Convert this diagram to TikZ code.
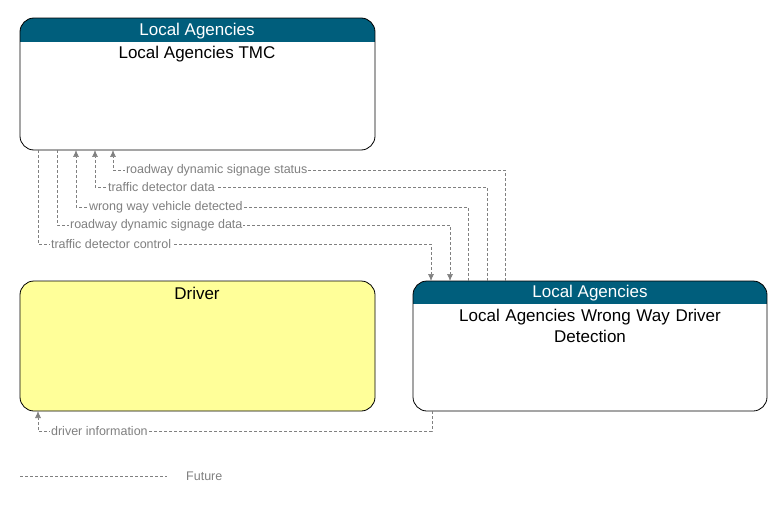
\documentclass[tikz,border=0pt]{standalone}
\usepackage{fontspec}
\setmainfont{Liberation Sans}
\usetikzlibrary{positioning,arrows.meta}
\definecolor{hdr}{RGB}{0,94,124}
\definecolor{drv}{RGB}{255,255,153}
\definecolor{flow}{RGB}{128,128,128}

\begin{document}
\begin{tikzpicture}[x=1pt,y=-1pt,
    flowline/.style={draw=flow,densely dashed,line width=.6pt},
    flowarrow/.style={flowline,-{Latex[length=7pt,width=6pt]}},
    flowlabel/.style={fill=white,inner sep=1pt,text=flow,font=\fontsize{12.5}{14}\selectfont,anchor=west},
    boxtitle/.style={font=\fontsize{17}{21}\selectfont,align=center}]
  \useasboundingbox (0,0) rectangle (783,505);

  % boxes
  \foreach \nm/\xa/\ya/\xb/\yb/\fl in {tmc/20/18/375/150/white,drv/20/281/375/411/drv,wwd/413/281/767/411/white}{
    \path[fill=\fl,rounded corners=14pt] (\xa,\ya) rectangle (\xb,\yb);
    \coordinate (\nm) at (\xa,\ya);
  }
  \begin{scope}
    \clip[rounded corners=14pt] (20,18) rectangle (375,150);
    \fill[hdr] (20,18) rectangle (375,42);
  \end{scope}
  \begin{scope}
    \clip[rounded corners=14pt] (413,281) rectangle (767,411);
    \fill[hdr] (413,281) rectangle (767,304);
  \end{scope}
  \draw[black,line width=.8pt,rounded corners=14pt] (20,18) rectangle (375,150);
  \draw[black,line width=.8pt,rounded corners=14pt] (20,281) rectangle (375,411);
  \draw[black,line width=.8pt,rounded corners=14pt] (413,281) rectangle (767,411);

  \node[boxtitle,text=white] (tmchdr) at (197,31) {Local Agencies};
  \node[boxtitle] (tmcname) at (197,54) {Local Agencies TMC};
  \node[boxtitle] (drvname) at (197,293) {Driver};
  \node[boxtitle,text=white] (wwdhdr) at (590,293) {Local Agencies};
  \node[boxtitle,text width=330pt] (wwdname) at (590,326) {Local Agencies Wrong Way Driver\\Detection};

  % anchor points on box edges
  \coordinate (t1) at (113,150); \coordinate (w1) at (505,281);
  \coordinate (t2) at (95,150);  \coordinate (w2) at (487,281);
  \coordinate (t3) at (76,150);  \coordinate (w3) at (468,281);
  \coordinate (t4) at (57,150);  \coordinate (w4) at (450,281);
  \coordinate (t5) at (38,150);  \coordinate (w5) at (431,281);
  \coordinate (d1) at (38,411);  \coordinate (w6) at (432,411);

  % flows
  \draw[flowarrow] (w1) |- (113,170) node[flowlabel,pos=.985] (l1) {roadway dynamic signage status} -- (t1);
  \draw[flowarrow] (w2) |- (95,187) node[flowlabel,pos=.985] (l2) {traffic detector data} -- (t2);
  \draw[flowarrow] (w3) |- (76,207) node[flowlabel,pos=.985] (l3) {wrong way vehicle detected} -- (t3);
  \draw[flowarrow] (t4) |- (450,225) node[flowlabel,pos=.515] (l4) {roadway dynamic signage data} -- (w4);
  \draw[flowarrow] (t5) |- (431,244) node[flowlabel,pos=.515] (l5) {traffic detector control} -- (w5);
  \draw[flowarrow] (w6) |- (38,431) node[flowlabel,pos=.985] (l6) {driver information} -- (d1);

  % legend
  \coordinate (lega) at (20,476);
  \coordinate (legb) at (167,476);
  \draw[flowline] (lega) -- (legb);
  \node[flowlabel,fill=none] (legtxt) at (185,476) {Future};
\end{tikzpicture}
\end{document}
